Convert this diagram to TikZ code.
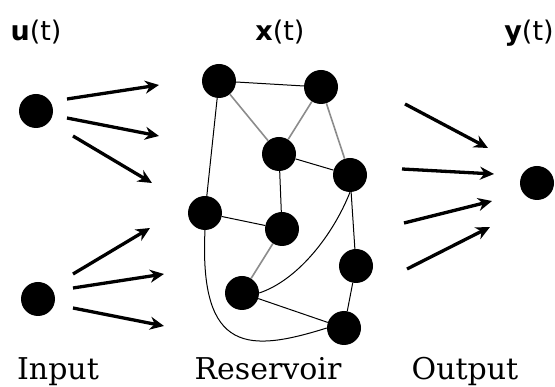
\documentclass[tikz,border=0pt]{standalone}
\usepackage{fontspec}
\setmainfont{DejaVu Serif}
\setsansfont{DejaVu Sans}
\usetikzlibrary{arrows.meta}
\tikzstyle{neuron}=[circle, fill=black, minimum size=34pt, inner sep=0pt]
\tikzstyle{syn}=[line width=1pt, draw=black]
\tikzstyle{gsyn}=[line width=1.6pt, draw=black!45]
\tikzstyle{arrw}=[->, >={Stealth[length=14pt,width=13pt]}, line width=3.3pt]
\tikzstyle{vecname}=[font=\sffamily\fontsize{27}{27}\selectfont, anchor=base]
\tikzstyle{layername}=[font=\fontsize{30}{30}\selectfont, anchor=base]

\begin{document}
\begin{tikzpicture}[x=1pt, y=-1pt]
\useasboundingbox (0,0) rectangle (555,387);

% input layer
\node[neuron] (in1) at (36,111) {};
\node[neuron] (in2) at (38,299) {};

% reservoir
\node[neuron] (r1) at (219,81) {};
\node[neuron] (r2) at (321,87) {};
\node[neuron] (r3) at (279,154) {};
\node[neuron] (r4) at (350,175) {};
\node[neuron] (r5) at (205,213) {};
\node[neuron] (r6) at (282,229) {};
\node[neuron] (r7) at (356,266) {};
\node[neuron] (r8) at (242,293) {};
\node[neuron] (r9) at (344,328) {};

% output
\node[neuron] (out) at (537,183) {};

\draw[syn] (r1) -- (r2);
\draw[gsyn] (r1) -- (r3);
\draw[gsyn] (r2) -- (r3);
\draw[gsyn] (r2) -- (r4);
\draw[syn] (r1) -- (r5);
\draw[syn] (r3) -- (r4);
\draw[syn] (r3) -- (r6);
\draw[syn] (r5) -- (r6);
\draw[gsyn] (r6) -- (r8);
\draw[syn] (r4) -- (r7);
\draw[syn] (r7) -- (r9);
\draw[syn] (r8) -- (r9);
\draw[syn] (r4.south) .. controls (333,235) and (298,280) .. (r8.east);
\draw[syn] (r5.south) .. controls (199,355) and (250,352) .. (r9.west);

% weights
\foreach \sx/\sy/\ex/\ey [count=\i] in {67/99/159/85, 67/118/159/136,
    73/136/152/183, 73/274/150/228, 73/288/164/274, 73/308/164/326,
    405/104/488/148, 402/169/494/174, 404/223/492/201, 407/269/490/227} {
  \coordinate (w\i a) at (\sx,\sy);
  \coordinate (w\i b) at (\ex,\ey);
  \draw[arrw] (w\i a) -- (w\i b);
}

\node[vecname] (uname) at (36,41) {\textbf{u}(t)};
\node[vecname] (xname) at (280,41) {\textbf{x}(t)};
\node[vecname] (yname) at (529,41) {\textbf{y}(t)};

\node[layername] (inname) at (58,380) {Input};
\node[layername] (resname) at (268,380) {Reservoir};
\node[layername] (outname) at (465,380) {Output};

\end{tikzpicture}
\end{document}
